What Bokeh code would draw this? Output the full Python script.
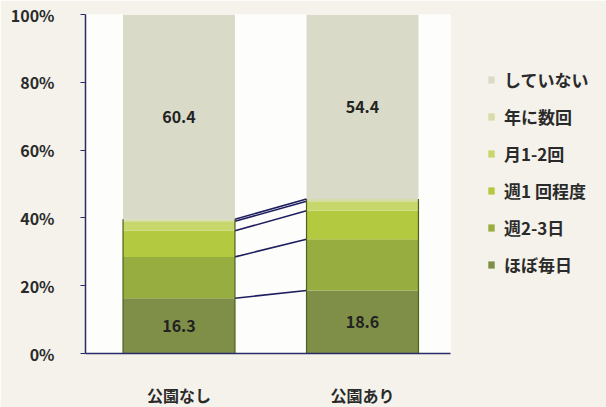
from bokeh.plotting import figure
from bokeh.models import Legend, LegendItem, FixedTicker, ColumnDataSource, Range1d
from bokeh.core.properties import value
from bokeh.embed import file_html
from bokeh.resources import INLINE

categories = ["公園なし", "公園あり"]
series_names = ["ほぼ毎日", "週2-3日", "週1 回程度", "月1-2回", "年に数回", "していない"]
daily = [16.3, 18.6]
w2_3 = [12.2, 15.1]
weekly1 = [7.7, 8.4]
monthly = [2.8, 2.8]
yearly = [0.6, 0.7]
never = [60.4, 54.4]
y_ticks = [0, 20, 40, 60, 80, 100]
y_tick_labels = ["0%", "20%", "40%", "60%", "80%", "100%"]

colors = ["#7f8f47", "#97ad3f", "#b3c93f", "#c8d76c", "#d6dcaa", "#dadac8"]
series = [daily, w2_3, weekly1, monthly, yearly, never]

FONT = "Noto Sans CJK JP"
BAR_W = 0.61
FW = 365

p = figure(frame_width=FW, frame_height=339, output_backend="svg", toolbar_location=None,
           x_range=Range1d(-0.5095, -0.5095 + FW / 183.5), y_range=Range1d(0, 100),
           min_border_left=85, min_border_right=606 - 85 - FW, min_border_top=14, min_border_bottom=54)
p.background_fill_color = "#fdfdfb"
p.border_fill_color = "#f4f2ea"
p.outline_line_color = None
p.grid.visible = False

xs = list(range(len(categories)))
bottoms = [0.0] * len(categories)
renderers = []
cum_levels = []
for name, vals, col in zip(series_names, series, colors):
    tops = [b + v for b, v in zip(bottoms, vals)]
    src = ColumnDataSource(dict(x=xs, bottom=bottoms, top=tops))
    r = p.vbar(x="x", bottom="bottom", top="top", width=BAR_W, source=src,
               fill_color=col, line_color=None)
    renderers.append((name, r))
    cum_levels.append(tops)
    bottoms = tops

# connecting lines between the cumulative boundaries
for lvl in cum_levels[:-1]:
    p.segment(x0=[xs[0] + BAR_W / 2], y0=[lvl[0]], x1=[xs[1] - BAR_W / 2], y1=[lvl[1]],
              line_color="#1e1e5e", line_width=1.6)

# bar side edges (green part)
green_top = cum_levels[-2]
for i in xs:
    p.segment(x0=[i - BAR_W / 2, i + BAR_W / 2], y0=[0, 0],
              x1=[i - BAR_W / 2, i + BAR_W / 2], y1=[green_top[i], green_top[i]],
              line_color="#4f6020", line_width=1.2)

# value labels (centred in first and last segments)
lab_x = xs + xs
lab_y = [d / 2 for d in daily] + [g + n / 2 for g, n in zip(green_top, never)]
lab_t = [f"{v:.1f}" for v in daily] + [f"{v:.1f}" for v in never]
p.text(x=lab_x, y=lab_y, text=lab_t, text_align="center", text_baseline="middle",
       text_font=value(FONT), text_font_style="bold", text_font_size="16px", text_color="#222222")

# axes
p.yaxis.ticker = FixedTicker(ticks=y_ticks)
p.yaxis.major_label_overrides = {t: l for t, l in zip(y_ticks, y_tick_labels)}
p.yaxis.minor_tick_line_color = None
p.yaxis.major_tick_in = 0
p.yaxis.major_tick_out = 5
p.yaxis.axis_line_color = "#2a2a6a"
p.yaxis.major_tick_line_color = "#2a2a6a"
p.yaxis.axis_line_width = 1.5
p.yaxis.major_label_standoff = 26
p.yaxis.major_label_text_font = FONT
p.yaxis.major_label_text_font_style = "bold"
p.yaxis.major_label_text_font_size = "16px"
p.yaxis.major_label_text_color = "#2a2a2a"

p.xaxis.ticker = FixedTicker(ticks=xs)
p.xaxis.major_label_overrides = {i: c for i, c in zip(xs, categories)}
p.xaxis.minor_tick_line_color = None
p.xaxis.major_tick_line_color = None
p.xaxis.axis_line_color = "#2a2a6a"
p.xaxis.axis_line_width = 1.5
p.xaxis.major_label_standoff = 23
p.xaxis.major_label_text_font = FONT
p.xaxis.major_label_text_font_style = "bold"
p.xaxis.major_label_text_font_size = "16px"
p.xaxis.major_label_text_color = "#2a2a2a"

items = [LegendItem(label=n, renderers=[r]) for n, r in reversed(renderers)]
legend = Legend(items=items, location=(37, 76), orientation="vertical",
                glyph_width=8, glyph_height=9, label_height=19, spacing=12,
                label_standoff=9, padding=0, margin=0,
                border_line_color=None, background_fill_alpha=0,
                label_text_font=FONT, label_text_font_style="bold",
                label_text_font_size="17px", label_text_color="#2a2a2a")
p.add_layout(legend, "right")

open("out.html", "w").write(file_html(p, INLINE))
